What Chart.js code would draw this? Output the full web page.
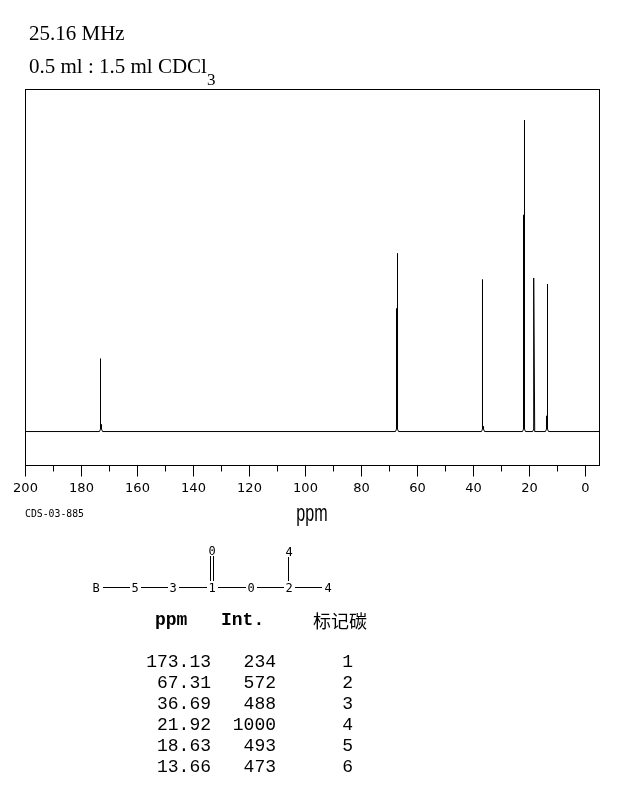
<!DOCTYPE html>
<html>
<head>
<meta charset="utf-8">
<title>25.16 MHz CDCl3</title>
<script src="https://cdn.jsdelivr.net/npm/chart.js@4"></script>
<style>
  html, body { margin: 0; padding: 0; background: #fff; }
  #wrap { position: relative; width: 622px; height: 794px; overflow: hidden; }
  #myChart { position: absolute; left: 0; top: 0; }
  .txt { position: absolute; white-space: pre; color: #000; line-height: 1; }
  .title { font-family: "Liberation Serif", serif; font-size: 21px; left: 29px; }
  .title sub { font-size: 17px; position: relative; top: 12px; vertical-align: baseline; }
  .code { font-family: "DejaVu Sans Mono", monospace; font-size: 9.8px; left: 25px; top: 509px; }
  .unit { font-family: "Liberation Sans", sans-serif; font-size: 23px; left: 262px; width: 100px; top: 502px; text-align: center; transform: scaleX(0.7); }
  .head { font-family: "Liberation Mono", monospace; font-size: 18px; font-weight: bold; top: 611px; }
  .cell { font-family: "Liberation Mono", monospace; font-size: 18px; text-align: right; }
  #mol { position: absolute; left: 0; top: 535px; }
  #mol text { font-family: "DejaVu Sans Mono", monospace; font-size: 12px; text-anchor: middle; }
  #mol line { stroke: #000; stroke-width: 1; shape-rendering: crispEdges; }
</style>
</head>
<body>
<div id="wrap">
  <canvas id="myChart" width="622" height="794"></canvas>
  <div class="txt title" style="top:23px">25.16 MHz</div>
  <div class="txt title" style="top:56px">0.5 ml : 1.5 ml CDCl<sub>3</sub></div>
  <div class="txt code">CDS-03-885</div>
  <div class="txt unit">ppm</div>

  <svg id="mol" width="400" height="65">
    <line x1="103" y1="52.5" x2="130" y2="52.5"/>
    <line x1="141" y1="52.5" x2="168" y2="52.5"/>
    <line x1="179" y1="52.5" x2="207" y2="52.5"/>
    <line x1="218" y1="52.5" x2="246" y2="52.5"/>
    <line x1="257" y1="52.5" x2="284" y2="52.5"/>
    <line x1="295" y1="52.5" x2="322" y2="52.5"/>
    <line x1="210.5" y1="21" x2="210.5" y2="46"/>
    <line x1="213.5" y1="21" x2="213.5" y2="46"/>
    <line x1="288.5" y1="22" x2="288.5" y2="46"/>
    <text x="96" y="57">B</text>
    <text x="135" y="57">5</text>
    <text x="173" y="57">3</text>
    <text x="212" y="57">1</text>
    <text x="251" y="57">0</text>
    <text x="289" y="57">2</text>
    <text x="328" y="57">4</text>
    <text x="212" y="20">0</text>
    <text x="289" y="21">4</text>
  </svg>

  <div class="txt head" style="left:155px">ppm</div>
  <div class="txt head" style="left:221px">Int.</div>
  <div class="txt" style="left:313px;top:611px;font-family:'Noto Sans CJK SC',sans-serif;font-size:18px">标记碳</div>
  <div id="table"></div>
</div>

<script>
// Peak table
const peakPpm = ['173.13', '67.31', '36.69', '21.92', '18.63', '13.66'];
const peakInt = ['234', '572', '488', '1000', '493', '473'];
const peakCarbon = ['1', '2', '3', '4', '5', '6'];

// Spectrum trace
const tracePpm = [
    200, 173.57, 173.21, 173.21, 173.21, 172.86, 172.86, 172.5,
    67.86, 67.5, 67.5, 67.14, 67.14, 67.14, 66.79,
    37.14, 36.79, 36.79, 36.79, 36.43, 36.43, 36.07,
    22.5, 22.14, 22.14, 21.79, 21.79, 21.79, 21.43,
    18.86, 18.5, 18.5, 18.14,
    14.29, 13.93, 13.93, 13.57, 13.57, 13.57, 13.21,
    -5
];
const traceInt = [
    0, 0, 8, 234, 22, 22, 8, 0,
    0, 8, 395, 395, 572, 8, 0,
    0, 8, 488, 16, 16, 8, 0,
    0, 8, 695, 695, 1000, 8, 0,
    0, 8, 493, 0,
    0, 8, 50, 50, 473, 8, 0,
    0
];

// Axis ticks
const majorTicks = [200, 180, 160, 140, 120, 100, 80, 60, 40, 20, 0];
const minorTicks = [190, 170, 150, 130, 110, 90, 70, 50, 30, 10];

// Peak table rows
const rowTops = [653, 674, 695, 716, 737, 758];
const table = document.getElementById('table');
function addCell(text, right, top) {
    const el = document.createElement('div');
    el.className = 'txt cell';
    el.textContent = text;
    el.style.right = (622 - right) + 'px';
    el.style.top = top + 'px';
    table.appendChild(el);
}
peakPpm.forEach((p, i) => {
    addCell(p, 211, rowTops[i]);
    addCell(peakInt[i], 276, rowTops[i]);
    addCell(peakCarbon[i], 353, rowTops[i]);
});

// plot box and the short ticks, neither has a chart.js option
const frame = {
    id: 'frame',
    afterDraw(chart) {
        const { ctx, chartArea: a, scales } = chart;
        ctx.save();
        ctx.strokeStyle = '#000';
        ctx.lineWidth = 1;
        ctx.strokeRect(a.left, a.top, a.right - a.left, a.bottom - a.top);
        ctx.beginPath();
        minorTicks.forEach(v => {
            const x = Math.round(scales.x.getPixelForValue(v) - 0.5) + 0.5;
            ctx.moveTo(x, a.bottom);
            ctx.lineTo(x, a.bottom + 6);
        });
        ctx.stroke();
        ctx.restore();
    }
};

new Chart(document.getElementById('myChart').getContext('2d'), {
    type: 'line',
    data: {
        datasets: [{
            data: tracePpm.map((p, i) => ({ x: p, y: traceInt[i] })),
            borderColor: '#000',
            borderWidth: 1,
            borderJoinStyle: 'bevel',
            pointRadius: 0,
            tension: 0
        }]
    },
    options: {
        responsive: false,
        animation: false,
        devicePixelRatio: 1,
        layout: { padding: { left: 25.5, right: 22.5, top: 89.5, bottom: 268.5 } },
        plugins: { legend: { display: false }, tooltip: { enabled: false } },
        scales: {
            x: {
                type: 'linear',
                reverse: true,
                min: -5,
                max: 200,
                afterBuildTicks: axis => { axis.ticks = majorTicks.map(v => ({ value: v })); },
                afterFit: axis => { axis.height = 60; },
                grid: { drawOnChartArea: false, tickLength: 11, tickColor: '#000' },
                border: { display: false },
                ticks: {
                    autoSkip: false,
                    maxRotation: 0,
                    padding: 4,
                    color: '#000',
                    font: { family: 'DejaVu Sans', size: 13 }
                }
            },
            y: {
                display: false,
                min: -109,
                max: 1098
            }
        }
    },
    plugins: [frame]
});
</script>
</body>
</html>
